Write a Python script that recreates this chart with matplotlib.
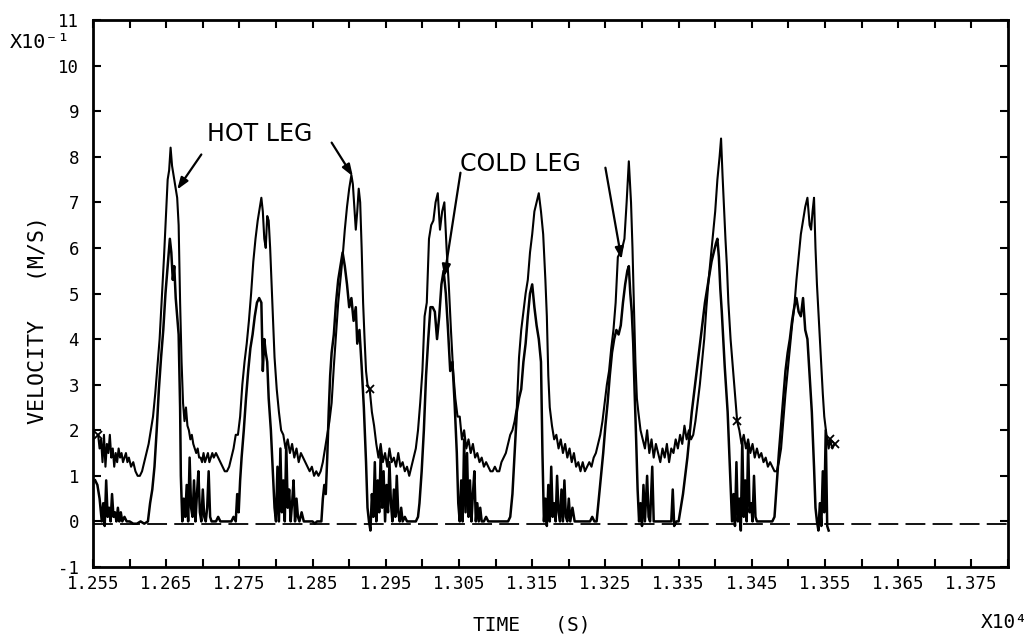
import numpy as np
import matplotlib
matplotlib.use("Agg")
import matplotlib.pyplot as plt

# ---- data (time in s, velocity in units of 0.1 m/s) ----
HOT_LEG = [
    (12557, 1.9), (12559, 1.6), (12561, 1.8), (12563, 1.3), (12565, 1.9), (12567, 1.2), (12569, 1.7),
    (12571, 1.5), (12573, 1.9), (12575, 1.4), (12577, 1.6), (12579, 1.2), (12581, 1.5), (12583, 1.3),
    (12585, 1.6), (12587, 1.4), (12589, 1.5), (12591, 1.3), (12593, 1.4), (12595, 1.5), (12597, 1.3),
    (12599, 1.4), (12602, 1.2), (12605, 1.3), (12608, 1.1), (12611, 1.0), (12614, 1.0), (12617, 1.1),
    (12620, 1.3), (12623, 1.5), (12626, 1.7), (12629, 2.0), (12632, 2.3), (12635, 2.8), (12638, 3.4),
    (12641, 4.0), (12644, 4.9), (12647, 5.8), (12650, 6.8), (12652, 7.5), (12654, 7.7), (12656, 8.2),
    (12658, 7.8), (12660, 7.6), (12662, 7.4), (12664, 7.2), (12665, 7.1), (12667, 6.5), (12669, 4.8),
    (12671, 3.5), (12673, 2.6), (12675, 2.2), (12677, 2.5), (12679, 2.1), (12681, 2.0), (12683, 1.8),
    (12685, 1.9), (12687, 1.7), (12689, 1.6), (12691, 1.5), (12693, 1.6), (12695, 1.4), (12697, 1.4),
    (12699, 1.3), (12701, 1.5), (12703, 1.3), (12705, 1.4), (12707, 1.5), (12709, 1.3), (12711, 1.4),
    (12713, 1.5), (12715, 1.4), (12718, 1.5), (12721, 1.4), (12724, 1.3), (12727, 1.2), (12730, 1.1),
    (12733, 1.1), (12736, 1.2), (12739, 1.4), (12742, 1.6), (12745, 1.9), (12748, 1.9), (12751, 2.3),
    (12754, 3.0), (12757, 3.5), (12760, 3.9), (12763, 4.4), (12766, 5.0), (12769, 5.7), (12772, 6.2),
    (12775, 6.6), (12778, 6.9), (12780, 7.1), (12782, 6.8), (12784, 6.2), (12786, 6.0), (12788, 6.7),
    (12790, 6.6), (12792, 6.0), (12794, 5.2), (12796, 4.4), (12798, 3.6), (12801, 2.9), (12804, 2.4),
    (12807, 2.0), (12810, 1.9), (12813, 1.6), (12816, 1.8), (12819, 1.5), (12822, 1.7), (12825, 1.4),
    (12828, 1.6), (12831, 1.3), (12834, 1.5), (12837, 1.4), (12840, 1.3), (12843, 1.2), (12846, 1.1),
    (12849, 1.2), (12852, 1.0), (12855, 1.1), (12858, 1.0), (12861, 1.1), (12864, 1.3), (12867, 1.6),
    (12870, 1.9), (12873, 2.2), (12876, 2.6), (12879, 3.4), (12882, 4.1), (12885, 4.8), (12888, 5.3),
    (12891, 5.8), (12894, 6.4), (12897, 6.9), (12900, 7.3), (12903, 7.6), (12905, 7.4), (12907, 6.9),
    (12909, 6.4), (12911, 6.8), (12913, 7.3), (12915, 7.0), (12917, 6.0), (12919, 4.8), (12921, 4.0),
    (12923, 3.3), (12925, 3.0), (12928, 2.9), (12931, 2.4), (12934, 2.1), (12937, 1.7), (12940, 1.4),
    (12943, 1.7), (12946, 1.3), (12949, 1.5), (12952, 1.2), (12955, 1.6), (12958, 1.3), (12961, 1.4),
    (12964, 1.2), (12967, 1.5), (12970, 1.2), (12973, 1.3), (12976, 1.1), (12979, 1.2), (12982, 1.0),
    (12985, 1.2), (12988, 1.4), (12991, 1.6), (12994, 2.0), (12997, 2.6), (13000, 3.3), (13003, 4.5),
    (13006, 4.8), (13009, 6.2), (13012, 6.5), (13015, 6.6), (13018, 7.0), (13021, 7.2), (13024, 6.4),
    (13027, 6.8), (13030, 7.0), (13033, 6.0), (13036, 5.2), (13039, 4.2), (13042, 3.3), (13045, 2.7),
    (13048, 2.3), (13051, 2.3), (13054, 1.8), (13057, 2.0), (13060, 1.6), (13063, 1.8), (13066, 1.5),
    (13069, 1.7), (13072, 1.4), (13075, 1.5), (13078, 1.3), (13081, 1.4), (13084, 1.2), (13087, 1.3),
    (13090, 1.2), (13093, 1.1), (13096, 1.1), (13099, 1.2), (13102, 1.1), (13105, 1.1), (13108, 1.3),
    (13111, 1.4), (13114, 1.5), (13117, 1.7), (13120, 1.9), (13123, 2.0), (13126, 2.2), (13129, 2.5),
    (13132, 3.6), (13135, 4.2), (13138, 4.6), (13141, 5.0), (13144, 5.3), (13147, 5.9), (13150, 6.3),
    (13153, 6.8), (13156, 7.0), (13159, 7.2), (13162, 6.8), (13165, 6.3), (13168, 5.3), (13170, 4.5),
    (13172, 3.2), (13174, 2.5), (13177, 2.1), (13180, 1.8), (13183, 1.9), (13186, 1.6), (13189, 1.8),
    (13192, 1.5), (13195, 1.7), (13198, 1.4), (13201, 1.6), (13204, 1.3), (13207, 1.5), (13210, 1.2),
    (13213, 1.3), (13216, 1.1), (13219, 1.3), (13222, 1.1), (13225, 1.2), (13228, 1.3), (13231, 1.2),
    (13234, 1.4), (13237, 1.5), (13240, 1.7), (13243, 1.9), (13246, 2.2), (13249, 2.6), (13252, 3.0),
    (13255, 3.3), (13258, 3.8), (13261, 4.2), (13264, 4.8), (13267, 5.8), (13270, 5.9), (13273, 6.0),
    (13276, 6.2), (13279, 7.0), (13282, 7.9), (13285, 7.0), (13287, 6.0), (13289, 4.7), (13291, 3.5),
    (13293, 2.7), (13295, 2.4), (13298, 2.0), (13301, 1.8), (13304, 1.6), (13307, 2.0), (13310, 1.5),
    (13313, 1.8), (13316, 1.4), (13319, 1.7), (13322, 1.5), (13325, 1.3), (13328, 1.6), (13331, 1.4),
    (13334, 1.7), (13337, 1.3), (13340, 1.6), (13343, 1.5), (13346, 1.8), (13349, 1.6), (13352, 1.9),
    (13355, 1.7), (13358, 2.1), (13361, 1.8), (13364, 2.0), (13367, 1.8), (13370, 1.9), (13373, 2.2),
    (13376, 2.6), (13379, 3.0), (13382, 3.5), (13385, 4.0), (13388, 4.7), (13391, 5.3), (13394, 5.8),
    (13397, 6.3), (13400, 6.8), (13403, 7.5), (13406, 8.0), (13408, 8.4), (13410, 7.6), (13412, 6.9),
    (13414, 6.2), (13416, 5.6), (13418, 4.8), (13421, 4.0), (13424, 3.4), (13427, 2.8), (13430, 2.2),
    (13433, 2.0), (13436, 1.7), (13439, 1.9), (13442, 1.6), (13445, 1.8), (13448, 1.5), (13451, 1.7),
    (13454, 1.4), (13457, 1.6), (13460, 1.4), (13463, 1.5), (13466, 1.3), (13469, 1.4), (13472, 1.2),
    (13475, 1.3), (13478, 1.2), (13481, 1.1), (13484, 1.1), (13487, 1.3), (13490, 1.6), (13493, 2.2),
    (13496, 2.8), (13499, 3.3), (13502, 3.8), (13505, 4.3), (13508, 4.7), (13511, 5.3), (13514, 5.8),
    (13517, 6.3), (13520, 6.6), (13523, 6.9), (13526, 7.1), (13529, 6.5), (13531, 6.4), (13533, 6.8),
    (13535, 7.1), (13537, 6.0), (13539, 5.2), (13541, 4.6), (13543, 4.0), (13545, 3.4), (13547, 2.8),
    (13549, 2.3), (13552, 1.9), (13555, 1.6), (13557, 1.8), (13560, 1.6), (13563, 1.7),
]

COLD_LEG = [
    (12553, 0.9), (12556, 0.8), (12559, 0.5), (12562, 0.0), (12564, 0.4), (12566, -0.1), (12568, 0.9),
    (12570, 0.1), (12572, 0.3), (12574, 0.0), (12576, 0.6), (12578, 0.1), (12580, 0.2), (12582, 0.0),
    (12584, 0.3), (12586, 0.0), (12588, 0.2), (12590, 0.0), (12593, 0.1), (12596, 0.0), (12600, 0.0),
    (12605, -0.05), (12610, -0.05), (12615, 0.0), (12620, -0.05), (12625, 0.0), (12628, 0.4), (12631, 0.7),
    (12634, 1.2), (12637, 2.0), (12640, 2.9), (12643, 3.6), (12646, 4.2), (12649, 5.0), (12652, 5.6),
    (12655, 6.2), (12657, 5.9), (12659, 5.3), (12661, 5.6), (12663, 4.9), (12665, 4.5), (12667, 4.1),
    (12669, 2.5), (12670, 1.0), (12672, 0.0), (12674, 0.5), (12676, 0.1), (12678, 0.8), (12680, 0.0),
    (12682, 1.4), (12684, 0.3), (12686, 0.1), (12688, 0.9), (12690, 0.0), (12692, 0.6), (12694, 1.1),
    (12696, 0.2), (12698, 0.0), (12700, 0.7), (12702, 0.1), (12704, 0.0), (12706, 0.3), (12708, 1.1),
    (12710, 0.1), (12712, 0.0), (12715, 0.0), (12718, 0.0), (12721, 0.1), (12724, 0.0), (12727, 0.0),
    (12730, 0.0), (12733, 0.0), (12736, 0.0), (12739, 0.0), (12742, 0.1), (12745, 0.0), (12747, 0.6),
    (12749, 0.2), (12751, 0.9), (12753, 1.4), (12756, 2.0), (12759, 2.7), (12762, 3.3), (12765, 3.8),
    (12768, 4.1), (12771, 4.5), (12774, 4.8), (12777, 4.9), (12780, 4.8), (12782, 3.3), (12784, 4.0),
    (12786, 3.7), (12788, 3.5), (12790, 2.7), (12793, 2.0), (12796, 1.0), (12798, 0.3), (12800, 0.0),
    (12802, 1.2), (12804, 0.0), (12806, 1.6), (12808, 0.2), (12810, 0.9), (12812, 0.0), (12814, 1.7),
    (12816, 0.3), (12818, 0.7), (12820, 0.0), (12822, 0.4), (12824, 0.9), (12826, 0.0), (12828, 0.5),
    (12830, 0.1), (12832, 0.0), (12835, 0.2), (12838, 0.0), (12841, 0.0), (12844, 0.0), (12847, 0.0),
    (12850, 0.0), (12853, -0.05), (12856, 0.0), (12859, 0.0), (12862, 0.0), (12864, 0.5), (12866, 0.8),
    (12868, 0.6), (12870, 1.4), (12872, 2.4), (12874, 3.2), (12876, 3.7), (12879, 4.1), (12882, 4.8),
    (12885, 5.3), (12888, 5.6), (12891, 5.9), (12894, 5.6), (12897, 5.2), (12900, 4.7), (12903, 4.9),
    (12906, 4.4), (12909, 4.7), (12911, 3.9), (12914, 4.2), (12917, 3.4), (12920, 2.5), (12923, 1.3),
    (12925, 0.3), (12927, 0.0), (12929, -0.2), (12931, 0.6), (12933, 0.1), (12935, 1.3), (12937, 0.0),
    (12939, 0.9), (12941, 0.2), (12943, 1.5), (12945, 0.3), (12947, 1.1), (12949, 0.0), (12951, 0.8),
    (12953, 0.2), (12955, 1.3), (12957, 0.4), (12959, 0.0), (12961, 0.7), (12963, 0.1), (12965, 1.0),
    (12967, 0.2), (12969, 0.0), (12971, 0.3), (12973, 0.0), (12976, 0.1), (12979, 0.0), (12982, 0.0),
    (12985, 0.0), (12988, 0.0), (12991, 0.0), (12994, 0.1), (12996, 0.4), (12999, 1.1), (13002, 2.0),
    (13005, 3.2), (13008, 4.0), (13011, 4.7), (13014, 4.7), (13017, 4.6), (13020, 4.0), (13023, 4.5),
    (13026, 5.2), (13029, 5.5), (13032, 5.0), (13035, 4.2), (13038, 3.3), (13041, 3.5), (13044, 2.6),
    (13047, 1.5), (13049, 0.4), (13051, 0.0), (13053, 0.9), (13055, 0.0), (13057, 1.8), (13059, 0.2),
    (13061, 1.5), (13063, 0.1), (13065, 0.9), (13067, 0.0), (13069, 0.6), (13071, 1.1), (13073, 0.0),
    (13075, 0.4), (13077, 0.0), (13079, 0.3), (13081, 0.0), (13084, 0.0), (13087, 0.1), (13090, 0.0),
    (13093, 0.0), (13096, 0.0), (13099, 0.0), (13102, 0.0), (13105, 0.0), (13108, 0.0), (13111, 0.0),
    (13114, 0.0), (13117, 0.0), (13120, 0.1), (13123, 0.6), (13126, 1.5), (13129, 2.4), (13132, 2.7),
    (13135, 2.9), (13138, 3.5), (13141, 3.9), (13144, 4.5), (13147, 5.0), (13150, 5.2), (13153, 4.7),
    (13156, 4.3), (13159, 4.0), (13162, 3.5), (13164, 1.5), (13166, 0.0), (13168, 0.5), (13170, -0.1),
    (13172, 0.8), (13174, 0.0), (13176, 1.2), (13178, 0.1), (13180, 0.4), (13182, 0.0), (13184, 1.0),
    (13186, 0.2), (13188, 0.0), (13190, 0.7), (13192, 0.0), (13194, 0.9), (13196, 0.1), (13198, 0.0),
    (13200, 0.5), (13202, 0.0), (13205, 0.3), (13208, 0.0), (13211, 0.0), (13214, 0.0), (13217, 0.0),
    (13220, 0.0), (13223, 0.0), (13226, 0.0), (13229, 0.0), (13232, 0.1), (13235, 0.0), (13238, 0.0),
    (13241, 0.5), (13244, 1.0), (13247, 1.5), (13250, 2.1), (13253, 2.6), (13256, 3.2), (13259, 3.7),
    (13262, 4.0), (13265, 4.2), (13268, 4.1), (13271, 4.3), (13274, 4.8), (13277, 5.2), (13280, 5.5),
    (13282, 5.6), (13284, 5.0), (13286, 4.6), (13288, 3.9), (13290, 2.8), (13292, 1.8), (13294, 0.7),
    (13296, 0.0), (13298, 0.4), (13300, -0.1), (13302, 0.8), (13304, 0.0), (13307, 1.0), (13309, 0.1),
    (13311, 0.0), (13314, 1.2), (13316, 0.0), (13319, 0.0), (13322, 0.0), (13325, 0.0), (13328, 0.0),
    (13331, 0.0), (13334, 0.0), (13337, 0.0), (13340, 0.0), (13342, 0.7), (13344, -0.1), (13347, 0.0),
    (13350, 0.0), (13353, 0.3), (13356, 0.6), (13359, 1.0), (13362, 1.4), (13365, 1.9), (13368, 2.4),
    (13371, 2.8), (13374, 3.2), (13377, 3.6), (13380, 4.0), (13383, 4.4), (13386, 4.8), (13389, 5.1),
    (13392, 5.4), (13395, 5.7), (13398, 5.9), (13401, 6.1), (13403, 6.2), (13405, 5.8), (13407, 5.1),
    (13409, 4.6), (13411, 4.0), (13413, 3.4), (13415, 2.9), (13417, 2.4), (13419, 1.6), (13421, 0.8),
    (13423, 0.0), (13425, 0.6), (13427, -0.1), (13429, 1.3), (13431, 0.0), (13433, 0.5), (13435, -0.2),
    (13437, 1.8), (13439, 0.1), (13441, 0.9), (13443, 0.0), (13445, 1.7), (13447, 0.2), (13449, 0.4),
    (13451, 0.0), (13453, 1.0), (13455, 0.1), (13457, 0.0), (13460, 0.0), (13463, 0.0), (13466, 0.0),
    (13469, 0.0), (13472, 0.0), (13475, 0.0), (13478, 0.0), (13481, 0.1), (13484, 0.8), (13487, 1.5),
    (13490, 2.1), (13493, 2.7), (13496, 3.3), (13499, 3.7), (13502, 4.0), (13505, 4.4), (13508, 4.7),
    (13511, 4.9), (13514, 4.6), (13517, 4.5), (13520, 4.9), (13523, 4.2), (13526, 4.0), (13529, 3.2),
    (13532, 2.4), (13535, 1.2), (13537, 0.3), (13539, 0.0), (13541, -0.2), (13543, 0.4), (13545, -0.1),
    (13547, 1.1), (13549, 0.2), (13551, 2.0), (13553, -0.1), (13555, -0.2),
]

HOT_MARK_TIMES = [12557, 12928, 13430, 13557, 13563]

X_TICK_LABELS = ["1.255", "1.265", "1.275", "1.285", "1.295", "1.305", "1.315",
                 "1.325", "1.335", "1.345", "1.355", "1.365", "1.375"]
Y_TICK_LABELS = ["-1", "0", "1", "2", "3", "4", "5", "6", "7", "8", "9", "10", "11"]

hot_t = np.array([p[0] for p in HOT_LEG], dtype=float)
hot_v = np.array([p[1] for p in HOT_LEG], dtype=float)
cold_t = np.array([p[0] for p in COLD_LEG], dtype=float)
cold_v = np.array([p[1] for p in COLD_LEG], dtype=float)

mono = "DejaVu Sans Mono"

fig = plt.figure(figsize=(10.35, 6.38), dpi=100)
ax = fig.add_axes([93 / 1035, 1 - 567 / 638, (1008 - 93) / 1035, (567 - 20) / 638])

ax.set_xlim(12550, 13800)
ax.set_ylim(-1, 11)

# zero reference line (dashed)
ax.axhline(-0.05, color="black", lw=1.3, ls=(0, (11, 4)), zorder=1)

ax.plot(hot_t, hot_v, color="black", lw=1.5, zorder=3,
        marker="x", markersize=6, markeredgewidth=1.3,
        markevery=list(np.where(np.isin(hot_t, HOT_MARK_TIMES))[0]))
ax.plot(cold_t, cold_v, color="black", lw=1.8, zorder=3)

# ticks
xt = np.arange(12550, 13801, 50)
ax.set_xticks(xt)
xlabels = []
k = 0
for i, v in enumerate(xt):
    if i % 2 == 0 and k < len(X_TICK_LABELS):
        xlabels.append(X_TICK_LABELS[k]); k += 1
    else:
        xlabels.append("")
ax.set_xticklabels(xlabels, fontfamily=mono, fontsize=12.5)
ax.set_yticks(np.arange(-1, 12, 1))
ax.set_yticklabels(Y_TICK_LABELS, fontfamily=mono, fontsize=12.5)
ax.tick_params(axis="both", direction="in", length=6, width=1.5, top=True, right=True,
               colors="black")
ax.tick_params(axis="x", pad=6)
ax.tick_params(axis="y", pad=10)
for s in ax.spines.values():
    s.set_linewidth(2.0)

ax.set_xlabel("TIME   (S)", fontfamily=mono, fontsize=14)
ax.xaxis.set_label_coords((532 - 93) / 915, -(625 - 567) / 547)
ax.xaxis.label.set_va("center")
ax.set_ylabel("VELOCITY   (M/S)", fontfamily=mono, fontsize=15.5)
ax.yaxis.set_label_coords(-(93 - 38) / 915, (567 - 320) / 547)
ax.yaxis.label.set_va("center")

fig.text(10 / 1035, 1 - 43 / 638, "X10⁻¹", fontfamily=mono, fontsize=14.5, va="center", ha="left")
fig.text(1028 / 1035, 1 - 623 / 638, "X10⁴", fontfamily=mono, fontsize=14, va="center", ha="right")

# annotations
lab = dict(fontfamily="DejaVu Sans", fontsize=17, color="black")
arr = dict(arrowstyle="-|>,head_length=0.7,head_width=0.25", color="black", lw=1.6,
           shrinkA=0, shrinkB=0)
ax.text(12706, 8.49, "HOT LEG", ha="left", va="center", **lab)
ax.annotate("", xy=(12665, 7.28), xytext=(12698, 8.05), arrowprops=arr)
ax.annotate("", xy=(12905, 7.57), xytext=(12876, 8.31), arrowprops=arr)
ax.text(13052, 7.85, "COLD LEG", ha="left", va="center", **lab)
ax.annotate("", xy=(13030, 5.37), xytext=(13052, 7.65), arrowprops=arr)
ax.annotate("", xy=(13272, 5.75), xytext=(13250, 7.76), arrowprops=arr)

fig.savefig("out.png", dpi=100)
